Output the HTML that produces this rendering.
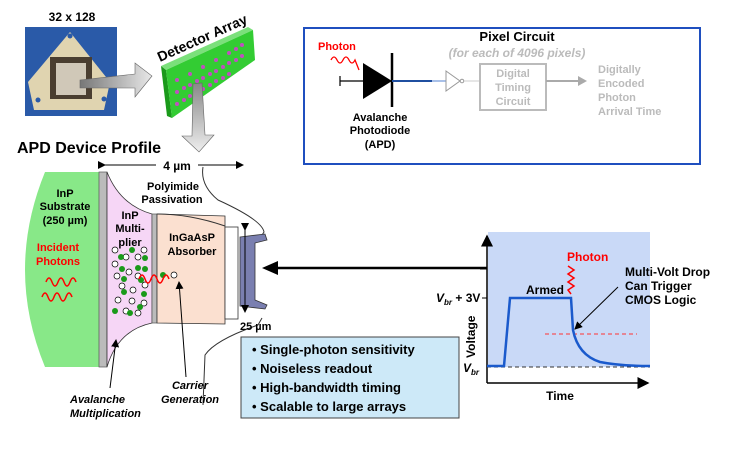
<!DOCTYPE html>
<html><head><meta charset="utf-8"><style>
html,body{margin:0;padding:0;background:#fff;}
svg{display:block;font-family:"Liberation Sans",Arial,sans-serif;}
</style></head><body>
<svg width="729" height="455" viewBox="0 0 729 455" xmlns="http://www.w3.org/2000/svg">
<defs>
<linearGradient id="ga" x1="0" y1="0" x2="1" y2="0"><stop offset="0" stop-color="#777"/><stop offset="1" stop-color="#e8e8e8"/></linearGradient>
<linearGradient id="gd" x1="0" y1="0" x2="0" y2="1"><stop offset="0" stop-color="#888"/><stop offset="1" stop-color="#eee"/></linearGradient>
<marker id="ah" markerWidth="8" markerHeight="8" refX="7" refY="4" orient="auto"><path d="M0,0 L8,4 L0,8z" fill="#000"/></marker>
</defs>
<!-- photo -->
<text x="72" y="21" font-size="12" font-weight="bold" text-anchor="middle">32 x 128</text>
<rect x="25" y="27" width="92" height="89" fill="#2a5aa8"/>
<path d="M70,32 L110,82 L104,110 L34,110 L28,82 Z" fill="#e0d4b0"/>
<rect x="50" y="57" width="42" height="42" fill="#4a3e30"/>
<rect x="56" y="63" width="30" height="32" fill="#d0c8b8"/>
<circle cx="70" cy="36" r="2.5" fill="#2a5aa8"/><circle cx="38" cy="100" r="2.5" fill="#2a5aa8"/><circle cx="104" cy="99" r="2.5" fill="#2a5aa8"/>
<!-- arrow to array -->
<path d="M80,80 L135,74 L135,63 L152,76 L135,97 L135,88 L80,88 Z" fill="url(#ga)" stroke="#666" stroke-width="0.6"/>
<!-- detector array -->
<path d="M161,66 L248,27 L253,30 L166,70 Z" fill="#7be07b"/>
<path d="M161,66 L166,70 L172,118 L167,116 Z" fill="#1a9a1a"/>
<path d="M166,70 L253,30 L255,60 L172,118 Z" fill="#33cc33"/>
<g fill="#c050c0">
<circle cx="177" cy="80" r="2"/><circle cx="190" cy="74" r="2"/><circle cx="203" cy="67" r="2"/><circle cx="216" cy="60" r="2"/><circle cx="229" cy="53" r="2"/><circle cx="242" cy="45" r="2"/>
<circle cx="177" cy="92" r="2"/><circle cx="190" cy="85" r="2"/><circle cx="203" cy="78" r="2"/><circle cx="216" cy="71" r="2"/><circle cx="229" cy="63" r="2"/><circle cx="242" cy="56" r="2"/>
<circle cx="177" cy="104" r="2"/><circle cx="190" cy="96" r="2"/><circle cx="203" cy="89" r="2"/><circle cx="216" cy="81" r="2"/><circle cx="229" cy="74" r="2"/><circle cx="184" cy="88" r="2"/><circle cx="197" cy="81" r="2"/><circle cx="210" cy="74" r="2"/><circle cx="223" cy="67" r="2"/><circle cx="236" cy="60" r="2"/><circle cx="184" cy="100" r="2"/><circle cx="197" cy="93" r="2"/><circle cx="210" cy="85" r="2"/><circle cx="223" cy="78" r="2"/><circle cx="236" cy="49" r="2"/>
</g>
<text font-size="14" font-weight="bold" transform="translate(160,62) rotate(-24)">Detector Array</text>
<!-- down arrow -->
<path d="M193,84 L202,83 L205,135 L214,135 L199,152 L182,136 L192,136 Z" fill="url(#gd)" stroke="#666" stroke-width="0.6"/>
<text x="17" y="153" font-size="16" font-weight="bold">APD Device Profile</text>
<!-- profile -->
<line x1="105" y1="165" x2="156" y2="165" stroke="#000" marker-start="url(#ah)"/>
<line x1="198" y1="165" x2="243" y2="165" stroke="#000" marker-end="url(#ah)"/>
<text x="177" y="170" font-size="12" font-weight="bold" text-anchor="middle">4 µm</text>
<path d="M45,172 L99,172 L99,367 L45,367 Q5,270 45,172 Z" fill="#88e888"/>
<rect x="99" y="172" width="8" height="195" fill="#bbb" stroke="#555" stroke-width="0.7"/>
<path d="M107,172 Q120,205 152,214 L152,323 Q118,330 107,367 Z" fill="#f6d6f6" stroke="#333" stroke-width="0.8"/>
<rect x="152" y="214" width="5" height="109" fill="#bbb" stroke="#555" stroke-width="0.7"/>
<path d="M157,214 L225,216 L225,324 L157,323 Z" fill="#fbe0d0" stroke="#333" stroke-width="0.8"/>
<rect x="225" y="227" width="13" height="92" fill="#fff" stroke="#333" stroke-width="0.8"/>
<path d="M157,214 Q190,214 225,226" fill="none" stroke="#333"/>
<path d="M203,167 Q200,185 218,200 Q262,220 264,232 L260,238" fill="none" stroke="#333"/>
<path d="M203,405 L205,355 Q215,340 258,325 L262,318" fill="none" stroke="#333"/>
<path d="M240,237 L265,234 L267,240 L255,243 L255,300 L267,305 L265,309 L240,306 Z" fill="#7a7fb0" stroke="#333" stroke-width="0.8"/>
<line x1="245" y1="230" x2="245" y2="312" stroke="#000" marker-start="url(#ah)" marker-end="url(#ah)"/>
<text x="240" y="330" font-size="11" font-weight="bold">25 µm</text>
<text x="173" y="190" font-size="11" font-weight="bold" text-anchor="middle">Polyimide</text>
<text x="172" y="203" font-size="11" font-weight="bold" text-anchor="middle">Passivation</text>
<text x="65" y="197" font-size="11" font-weight="bold" text-anchor="middle">InP</text>
<text x="65" y="210" font-size="11" font-weight="bold" text-anchor="middle">Substrate</text>
<text x="65" y="224" font-size="11" font-weight="bold" text-anchor="middle">(250 µm)</text>
<text x="58" y="251" font-size="11" font-weight="bold" fill="#f00" text-anchor="middle">Incident</text>
<text x="58" y="265" font-size="11" font-weight="bold" fill="#f00" text-anchor="middle">Photons</text>
<path d="M46,282 q3,-8 6,0 q3,8 6,0 q3,-8 6,0 q3,8 6,0 q3,-8 6,0" fill="none" stroke="#f00" stroke-width="1.5"/>
<path d="M42,297 q3,-8 6,0 q3,8 6,0 q3,-8 6,0 q3,8 6,0 q3,-8 6,0" fill="none" stroke="#f00" stroke-width="1.5"/>
<text x="130" y="219" font-size="11" font-weight="bold" text-anchor="middle">InP</text>
<text x="130" y="232" font-size="11" font-weight="bold" text-anchor="middle">Multi-</text>
<text x="130" y="246" font-size="11" font-weight="bold" text-anchor="middle">plier</text>
<text x="192" y="241" font-size="11" font-weight="bold" text-anchor="middle">InGaAsP</text>
<text x="192" y="255" font-size="11" font-weight="bold" text-anchor="middle">Absorber</text>
<g stroke="#000" stroke-width="0.7" fill="#fff">
<circle cx="115" cy="250" r="3"/><circle cx="126" cy="257" r="3"/><circle cx="138" cy="257" r="3"/><circle cx="144" cy="250" r="3"/><circle cx="115" cy="264" r="3"/><circle cx="129" cy="272" r="3"/><circle cx="117" cy="276" r="3"/><circle cx="138" cy="276" r="3"/><circle cx="122" cy="286" r="3"/><circle cx="133" cy="290" r="3"/><circle cx="118" cy="300" r="3"/><circle cx="132" cy="301" r="3"/><circle cx="144" cy="303" r="3"/><circle cx="126" cy="311" r="3"/><circle cx="138" cy="313" r="3"/><circle cx="145" cy="285" r="3"/><circle cx="174" cy="275" r="3"/>
</g>
<g fill="#1a9a1a">
<circle cx="121" cy="257" r="3"/><circle cx="132" cy="250" r="3"/><circle cx="145" cy="258" r="3"/><circle cx="122" cy="269" r="3"/><circle cx="138" cy="268" r="3"/><circle cx="145" cy="269" r="3"/><circle cx="124" cy="279" r="3"/><circle cx="141" cy="280" r="3"/><circle cx="124" cy="292" r="3"/><circle cx="144" cy="294" r="3"/><circle cx="140" cy="307" r="3"/><circle cx="115" cy="311" r="3"/><circle cx="130" cy="313" r="3"/><circle cx="163" cy="275" r="3"/>
</g>
<path d="M139,279 q3,-8 6,0 q3,8 6,0 q3,-8 6,0 q3,8 6,0 q3,-8 6,0" fill="none" stroke="#f00" stroke-width="1.5"/>
<line x1="110" y1="388" x2="116" y2="340" stroke="#000" marker-end="url(#ah)"/>
<line x1="186" y1="377" x2="179" y2="282" stroke="#000" marker-end="url(#ah)"/>
<text x="70" y="403" font-size="11" font-weight="bold" font-style="italic">Avalanche</text>
<text x="70" y="417" font-size="11" font-weight="bold" font-style="italic">Multiplication</text>
<text x="190" y="389" font-size="11" font-weight="bold" font-style="italic" text-anchor="middle">Carrier</text>
<text x="190" y="403" font-size="11" font-weight="bold" font-style="italic" text-anchor="middle">Generation</text>
<!-- bullets -->
<rect x="241" y="337" width="218" height="81" fill="#cde9f8" stroke="#444" stroke-width="1"/>
<g font-size="13" font-weight="bold">
<text x="252" y="354">•  Single-photon sensitivity</text>
<text x="252" y="373">•  Noiseless readout</text>
<text x="252" y="392">•  High-bandwidth timing</text>
<text x="252" y="411">•  Scalable to large arrays</text>
</g>
<!-- big arrow -->
<line x1="487" y1="268" x2="270" y2="268" stroke="#000" stroke-width="2.5"/>
<path d="M262,268 L278,261 L278,275 Z" fill="#000"/>
<!-- graph -->
<rect x="488" y="232" width="162" height="135" fill="#c9d9f7"/>
<line x1="487" y1="383" x2="487" y2="236" stroke="#000" stroke-width="1.5" marker-end="url(#ah)"/>
<line x1="487" y1="383" x2="648" y2="383" stroke="#000" stroke-width="1.5" marker-end="url(#ah)"/>
<line x1="482" y1="298" x2="487" y2="298" stroke="#000"/>
<line x1="480" y1="269" x2="487" y2="269" stroke="#000"/>
<line x1="487" y1="367" x2="650" y2="367" stroke="#333" stroke-dasharray="4,3"/>
<line x1="545" y1="334" x2="637" y2="334" stroke="#f33" stroke-dasharray="4,3"/>
<path d="M487,366 L504,366 L510,298 L571,298 L573,330 Q578,355 600,362 Q620,366 650,366" fill="none" stroke="#1a5acc" stroke-width="2.5"/>
<text x="436" y="302" font-size="12" font-weight="bold"><tspan font-style="italic">V</tspan><tspan font-size="8" font-style="italic" dy="3">br</tspan><tspan dy="-3"> + 3V</tspan></text>
<text x="463" y="372" font-size="12" font-weight="bold"><tspan font-style="italic">V</tspan><tspan font-size="8" font-style="italic" dy="3">br</tspan></text>
<text font-size="12" font-weight="bold" transform="translate(475,358) rotate(-90)">Voltage</text>
<text x="560" y="400" font-size="12" font-weight="bold" text-anchor="middle">Time</text>
<text x="526" y="294" font-size="12" font-weight="bold">Armed</text>
<text x="567" y="261" font-size="12" font-weight="bold" fill="#f00">Photon</text>
<path d="M568,266 l6,4 l-6,4 l6,4 l-6,4 l6,4 l-6,4 l3,4" fill="none" stroke="#f00" stroke-width="1.5"/>
<g font-size="12" font-weight="bold"><text x="625" y="276">Multi-Volt Drop</text><text x="625" y="290">Can Trigger</text><text x="625" y="304">CMOS Logic</text></g>
<line x1="618" y1="287" x2="575" y2="329" stroke="#000" marker-end="url(#ah)"/>
<!-- pixel circuit -->
<rect x="304" y="28" width="396" height="136" fill="#fff" stroke="#1f4fbf" stroke-width="2"/>
<text x="517" y="41" font-size="13" font-weight="bold" text-anchor="middle">Pixel Circuit</text>
<text x="517" y="57" font-size="12" font-weight="bold" font-style="italic" fill="#bbb" text-anchor="middle">(for each of 4096 pixels)</text>
<text x="318" y="50" font-size="11" font-weight="bold" fill="#f00">Photon</text>
<path d="M331,60 q3,-6 6,0 q3,6 6,0 q3,-6 6,0 q3,6 6,0 l4,10" fill="none" stroke="#f00" stroke-width="1.3"/>
<line x1="340" y1="81" x2="364" y2="81" stroke="#000" stroke-width="1.2"/>
<line x1="340" y1="76" x2="340" y2="86" stroke="#000" stroke-width="1.2"/>
<path d="M363,63 L392,81 L363,99 Z" fill="#000"/>
<line x1="392" y1="53" x2="392" y2="107" stroke="#000" stroke-width="2.5"/>
<line x1="392" y1="81" x2="432" y2="81" stroke="#1f4fa0" stroke-width="2"/>
<line x1="432" y1="81" x2="446" y2="81" stroke="#a8c0e8" stroke-width="2"/>
<path d="M446,71 L460,81 L446,91 Z" fill="#fff" stroke="#999"/>
<circle cx="462" cy="81" r="1.8" fill="#fff" stroke="#999"/>
<line x1="464" y1="81" x2="480" y2="81" stroke="#ccc"/>
<rect x="480" y="64" width="66" height="46" fill="#fff" stroke="#bbb" stroke-width="2"/>
<g font-size="11" font-weight="bold" fill="#bbb" text-anchor="middle"><text x="513" y="77">Digital</text><text x="513" y="91">Timing</text><text x="513" y="105">Circuit</text></g>
<line x1="546" y1="81" x2="580" y2="81" stroke="#aaa" stroke-width="2"/>
<path d="M578,76 L587,81 L578,86 Z" fill="#aaa"/>
<g font-size="11" font-weight="bold" fill="#bbb"><text x="598" y="73">Digitally</text><text x="598" y="87">Encoded</text><text x="598" y="101">Photon</text><text x="598" y="115">Arrival Time</text></g>
<g font-size="11" font-weight="bold" text-anchor="middle"><text x="380" y="121">Avalanche</text><text x="380" y="134">Photodiode</text><text x="380" y="148">(APD)</text></g>
</svg>
</body></html>
